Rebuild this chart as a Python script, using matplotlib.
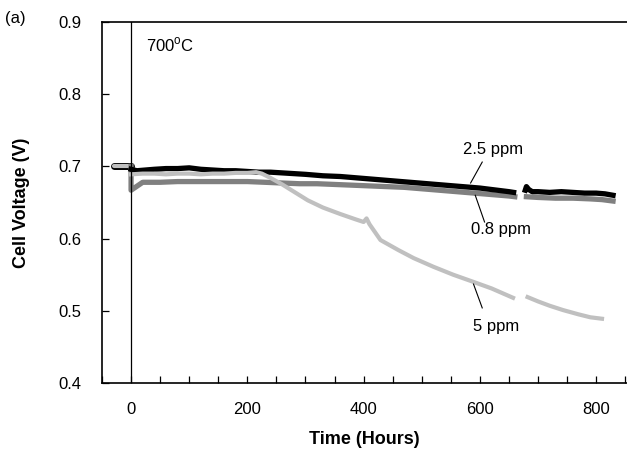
import matplotlib.pyplot as plt
from matplotlib.ticker import MultipleLocator

plt.rcParams['font.family'] = ['Liberation Sans', 'DejaVu Sans']

# 2.5 ppm (black), two pieces with a gap near 660-680 h
t_25a = [0, 10, 25, 40, 60, 80, 100, 120, 140, 160, 180, 200, 220, 240, 260, 280,
         300, 330, 360, 390, 420, 450, 480, 510, 540, 570, 600, 630, 650, 658]
v_25a = [0.696, 0.694, 0.695, 0.696, 0.697, 0.697, 0.698, 0.696, 0.695, 0.694, 0.694,
         0.693, 0.692, 0.692, 0.691, 0.690, 0.689, 0.687, 0.686, 0.684, 0.682, 0.680,
         0.678, 0.676, 0.674, 0.672, 0.670, 0.667, 0.665, 0.664]
t_25b = [678, 680, 684, 690, 700, 720, 740, 760, 780, 800, 815, 829]
v_25b = [0.667, 0.672, 0.668, 0.665, 0.665, 0.664, 0.665, 0.664, 0.663, 0.663, 0.662, 0.660]

# 0.8 ppm (dark grey)
t_08a = [0, 0, 20, 50, 80, 110, 140, 170, 200, 230, 260, 290, 320, 350, 380, 410,
         440, 470, 500, 530, 560, 590, 620, 650, 660]
v_08a = [0.700, 0.667, 0.678, 0.678, 0.679, 0.679, 0.679, 0.679, 0.679, 0.678, 0.677,
         0.676, 0.676, 0.675, 0.674, 0.673, 0.672, 0.671, 0.669, 0.667, 0.665, 0.663,
         0.661, 0.659, 0.658]
t_08b = [680, 700, 730, 760, 790, 810, 829]
v_08b = [0.658, 0.657, 0.656, 0.656, 0.655, 0.654, 0.652]

# 5 ppm (light grey)
t_5a = [0, 20, 40, 60, 80, 100, 120, 140, 160, 180, 200, 215, 225, 240, 260, 280,
        304, 330, 360, 385, 400, 405, 410, 429, 460, 486, 520, 554, 589, 620, 657]
v_5a = [0.689, 0.690, 0.690, 0.689, 0.690, 0.690, 0.689, 0.690, 0.690, 0.691, 0.691,
        0.692, 0.690, 0.684, 0.675, 0.665, 0.653, 0.643, 0.634, 0.627, 0.623, 0.628,
        0.620, 0.598, 0.584, 0.573, 0.561, 0.550, 0.540, 0.531, 0.518]
t_5b = [682, 700, 720, 743, 770, 790, 810]
v_5b = [0.519, 0.513, 0.507, 0.501, 0.495, 0.491, 0.489]

# baseline before the impurity was added
t_pre = [-30, 0]
v_pre = [0.700, 0.700]

fig = plt.figure(figsize=(6.27, 4.55), dpi=100)
ax = fig.add_axes([102 / 627, 72 / 455, 525 / 627, 361 / 455])

dark = '#808080'
light = '#c0c0c0'

ax.plot(t_pre, v_pre, color='black', lw=5, solid_capstyle='round', zorder=2)
ax.plot(t_pre, v_pre, color=light, lw=3, solid_capstyle='round', zorder=2)
ax.plot(t_08a, v_08a, color=dark, lw=3.8, zorder=2)
ax.plot(t_08b, v_08b, color=dark, lw=3.8, zorder=2)
ax.plot(t_25a, v_25a, color='black', lw=3.8, zorder=3)
ax.plot(t_25b, v_25b, color='black', lw=3.8, zorder=3)
ax.plot(t_5a, v_5a, color=light, lw=3.0, zorder=4)
ax.plot(t_5b, v_5b, color=light, lw=3.0, zorder=4)

ax.axvline(0, color='black', lw=0.9, zorder=5)

# labels with leader lines
ax.text(623, 0.723, '2.5 ppm', ha='center', va='center', fontsize=12)
ax.plot([604, 584], [0.706, 0.677], color='black', lw=0.8, zorder=6)
ax.text(637, 0.612, '0.8 ppm', ha='center', va='center', fontsize=12)
ax.plot([592, 608], [0.660, 0.623], color='black', lw=0.8, zorder=6)
ax.text(628, 0.478, '5 ppm', ha='center', va='center', fontsize=12)
ax.plot([589, 604], [0.537, 0.504], color='black', lw=0.8, zorder=6)

ax.text(26, 0.868, '700$^{\\mathregular{o}}$C', ha='left', va='center', fontsize=12)
fig.text(5 / 627, 1 - 18 / 455, '(a)', ha='left', va='center', fontsize=12)

ax.set_xlim(-50, 853)
ax.set_ylim(0.4, 0.9)
ax.xaxis.set_major_locator(MultipleLocator(200))
ax.xaxis.set_minor_locator(MultipleLocator(50))
ax.yaxis.set_major_locator(MultipleLocator(0.1))
ax.tick_params(axis='x', which='both', direction='in', length=5, width=0.9, pad=14,
               labelsize=12, top=False)
ax.tick_params(axis='y', which='both', direction='in', length=5, width=0.9, pad=15,
               labelsize=12, right=False)
ax.set_yticklabels(['%.1f' % v for v in ax.get_yticks()])

ax.spines['right'].set_visible(False)
for s in ['left', 'bottom', 'top']:
    ax.spines[s].set_linewidth(1.2)

ax.set_xlabel('Time (Hours)', fontsize=13, fontweight='bold', labelpad=10)
ax.set_ylabel('Cell Voltage (V)', fontsize=13, fontweight='bold', labelpad=20)

fig.savefig('out.png', dpi=100)
